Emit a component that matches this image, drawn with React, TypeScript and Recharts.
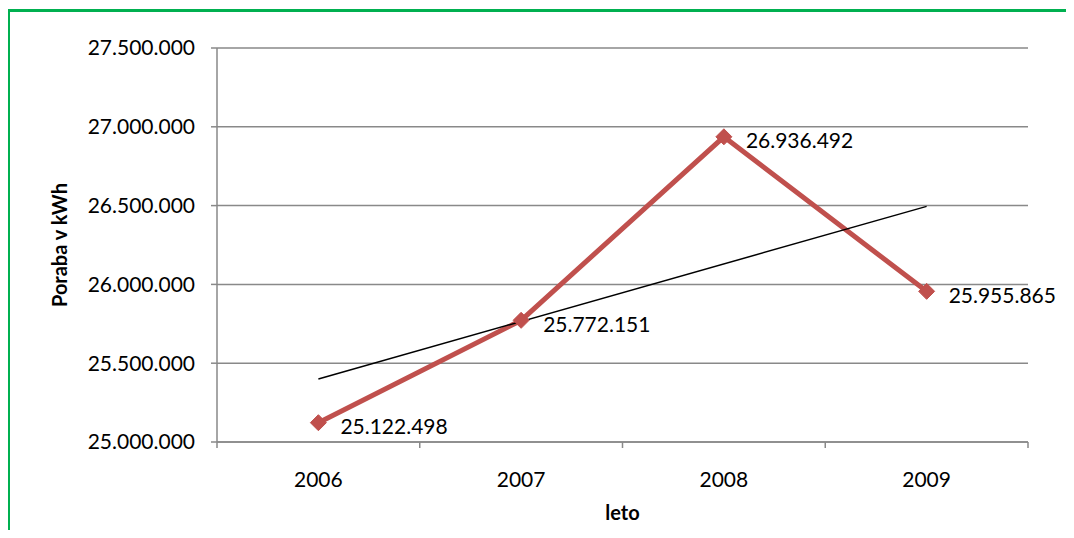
import {
  CartesianGrid,
  Label,
  LabelList,
  Line,
  LineChart,
  XAxis,
  YAxis
} from "recharts";

const years = ["2006", "2007", "2008", "2009"];
const consumption = [25122498, 25772151, 26936492, 25955865];
// linear trend at the first and last year
const trendEnds = [25400000, 26495000];
const yTicks = [25000000, 25500000, 26000000, 26500000, 27000000, 27500000];
const xTicks = [-0.5, 0, 0.5, 1, 1.5, 2, 2.5, 3, 3.5];

const data = years.map((year, i) => ({
  x: i,
  year,
  value: consumption[i],
  trend: i === 0 ? trendEnds[0] : i === years.length - 1 ? trendEnds[1] : null
}));

const FONT = "Lato, 'Open Sans', sans-serif";
const GRID = "#898989";
const RED = "#c0504d";

const fmt = (v: number) => String(Math.round(v)).replace(/\B(?=(\d{3})+(?!\d))/g, ".");

function XTick(props: any) {
  const { x, y, payload } = props;
  const v = Number(payload.value);
  if (Number.isInteger(v)) {
    return (
      <text x={x} y={y + 45} textAnchor="middle" fontFamily={FONT} fontSize={21} fill="#000">
        {years[v]}
      </text>
    );
  }
  return <line x1={x} y1={y} x2={x} y2={y + 6} stroke={GRID} strokeWidth={1.5} />;
}

function Diamond(props: any) {
  const { cx, cy } = props;
  if (cx == null || cy == null) return null;
  const s = 8;
  return (
    <polygon
      points={`${cx},${cy - s} ${cx + s},${cy} ${cx},${cy + s} ${cx - s},${cy}`}
      fill={RED}
      stroke={RED}
    />
  );
}

function ValueLabel(props: any) {
  const { x, y, value } = props;
  return (
    <text x={x + 22} y={y + 3} dominantBaseline="central" fontFamily={FONT} fontSize={21} fill="#000">
      {fmt(value)}
    </text>
  );
}

export default function App() {
  return (
    <div style={{ position: "relative", width: 1074, height: 538, margin: -8, background: "#fff" }}>
      <div
        style={{
          position: "absolute",
          left: 7,
          top: 9,
          width: 1067,
          height: 529,
          boxSizing: "border-box",
          borderTop: "3px solid #00b050",
          borderLeft: "3px solid #00b050"
        }}
      />
      <div style={{ position: "absolute", left: 0, top: 0 }}>
        <LineChart
          width={1074}
          height={538}
          data={data}
          margin={{ top: 48, right: 46, left: 0, bottom: 0 }}
        >
          <CartesianGrid vertical={false} stroke={GRID} strokeWidth={1.5} />
          <XAxis
            type="number"
            dataKey="x"
            domain={[-0.5, 3.5]}
            ticks={xTicks}
            interval={0}
            height={96}
            tickLine={false}
            tickSize={0}
            tickMargin={0}
            tick={<XTick />}
            axisLine={{ stroke: GRID, strokeWidth: 1.5 }}
          >
            <Label
              value="leto"
              position="insideBottom"
              offset={18}
              style={{ fontFamily: FONT, fontSize: 20, fontWeight: 700, fill: "#000" }}
            />
          </XAxis>
          <YAxis
            domain={[25000000, 27500000]}
            ticks={yTicks}
            width={217}
            tickFormatter={fmt}
            tickSize={6}
            tickMargin={16}
            tickLine={{ stroke: GRID, strokeWidth: 1.5 }}
            axisLine={{ stroke: GRID, strokeWidth: 1.5 }}
            tick={{ fontFamily: FONT, fontSize: 21, fill: "#000" }}
          >
            <Label
              value="Poraba v kWh"
              angle={-90}
              position="insideLeft"
              offset={60}
              style={{ fontFamily: FONT, fontSize: 20, fontWeight: 700, fill: "#000", textAnchor: "middle" }}
            />
          </YAxis>
          <Line
            type="linear"
            dataKey="value"
            stroke={RED}
            strokeWidth={5}
            dot={<Diamond />}
            activeDot={false}
            isAnimationActive={false}
          >
            <LabelList dataKey="value" content={<ValueLabel />} />
          </Line>
          <Line
            type="linear"
            dataKey="trend"
            stroke="#000"
            strokeWidth={1.5}
            dot={false}
            activeDot={false}
            connectNulls
            isAnimationActive={false}
          />
        </LineChart>
      </div>
    </div>
  );
}
